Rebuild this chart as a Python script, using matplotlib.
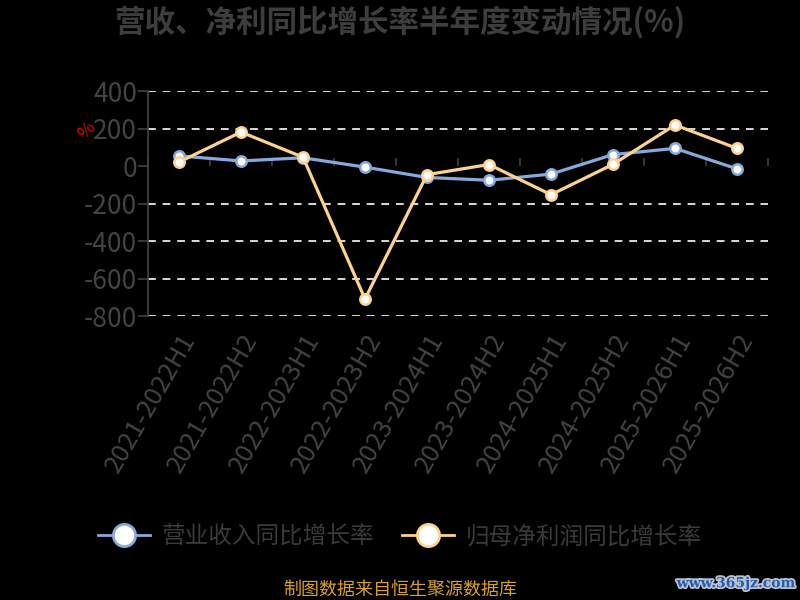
import matplotlib
matplotlib.use("Agg")
import matplotlib.pyplot as plt
import matplotlib.patheffects as pe
import numpy as np

plt.rcParams['font.family'] = ['Noto Sans CJK SC', 'DejaVu Sans']

categories = ["2021-2022H1", "2021-2022H2", "2022-2023H1", "2022-2023H2",
              "2023-2024H1", "2023-2024H2", "2024-2025H1", "2024-2025H2",
              "2025-2026H1", "2025-2026H2"]
revenue_yoy = [55, 28, 45, -5, -60, -75, -42, 62, 95, -14]
profit_yoy = [22, 182, 48, -708, -45, 9, -152, 10, 220, 95]
yticks = [400, 200, 0, -200, -400, -600, -800]

title = "营收、净利同比增长率半年度变动情况(%)"
series_names = ["营业收入同比增长率", "归母净利润同比增长率"]
source = "制图数据来自恒生聚源数据库"
watermark = "www.365jz.com"

blue = "#86a9dc"
orange = "#fdd18e"
gray = "#434343"

fig = plt.figure(figsize=(8, 6), dpi=100, facecolor="black")
ax = fig.add_axes([0.185, 0.473, 0.775, 0.375], facecolor="black")

x = np.arange(len(categories))
l1, = ax.plot(x, revenue_yoy, color=blue, lw=2.3, marker="o", ms=7.5,
              mfc="white", mec=blue, mew=1.8, zorder=3)
l2, = ax.plot(x, profit_yoy, color=orange, lw=2.3, marker="o", ms=7.5,
              mfc="white", mec=orange, mew=1.8, zorder=4)

ax.set_xlim(-0.5, len(categories) - 0.5)
ax.set_ylim(-800, 400)
ax.set_yticks(yticks)
ax.set_yticklabels([str(v) for v in yticks], fontsize=19, color=gray,
                   fontweight="light")
ax.tick_params(axis="y", length=7, width=1.2, color=gray, pad=1)

for v in yticks:
    if v != 0:
        ax.axhline(v, color="#d9d9d9", lw=1.4, ls=(0, (4, 3.5)), zorder=1)

ax.set_xticks(x)
ax.set_xticklabels(categories, rotation=60, ha="right", rotation_mode="anchor",
                   fontsize=18.5, color=gray, fontweight="light")
ax.tick_params(axis="x", length=0, pad=9)

for s in ["top", "right", "bottom"]:
    ax.spines[s].set_visible(False)
ax.spines["left"].set_color(gray)
ax.spines["left"].set_linewidth(1.2)

# zero axis with category boundary ticks
sec = ax.secondary_xaxis(800 / 1200)
sec.set_xticks(np.arange(len(categories) + 1) - 0.5)
sec.set_xticklabels([])
sec.tick_params(axis="x", direction="out", length=6, width=1.2, color=gray)
sec.spines["bottom"].set_color(gray)
sec.spines["bottom"].set_linewidth(1.5)

fig.text(0.108, 0.782, "%", color="#e00000", fontsize=13, rotation=45,
         ha="center", va="center")

fig.text(0.5, 0.962, title, ha="center", va="center", fontsize=22,
         fontweight="bold", color="#3d3d3d")

leg = fig.legend([l1, l2], series_names, loc="center", bbox_to_anchor=(0.5, 0.105),
                 ncol=2, frameon=False, fontsize=17, handlelength=2.2,
                 columnspacing=1.2, handletextpad=0.5, labelcolor="#3a3a3a",
                 prop={"weight": "light", "size": 17})
for h in leg.legend_handles:
    h.set_markersize(16)
    h.set_markeredgewidth(2)
    h.set_linewidth(2)

fig.text(0.5, 0.017, source, ha="center", va="center", fontsize=13, color="#d9a024")

fig.text(0.92, 0.028, watermark, ha="center", va="center", fontsize=10,
         fontweight="bold", family="DejaVu Serif", color="#2b5aa6",
         path_effects=[pe.withStroke(linewidth=2.5, foreground="#b8c4d6")])

fig.savefig("out.png", dpi=100, facecolor="black")
